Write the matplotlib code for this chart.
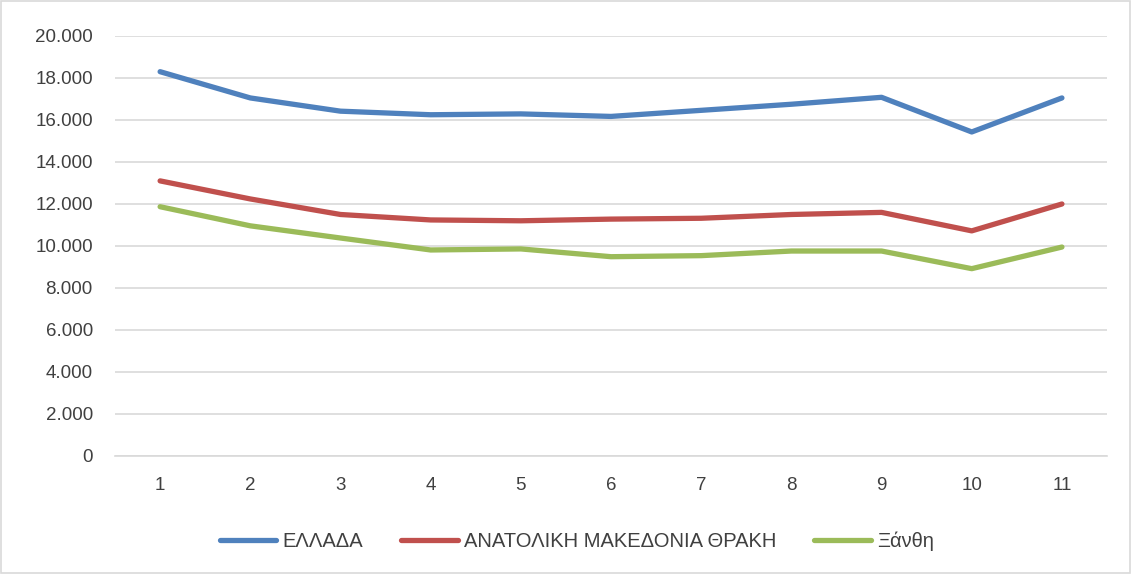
import matplotlib.pyplot as plt
from matplotlib.patches import Rectangle
from matplotlib.ticker import FuncFormatter

plt.rcParams['font.family'] = ['Liberation Sans', 'DejaVu Sans']

# Data
x = [1, 2, 3, 4, 5, 6, 7, 8, 9, 10, 11]
ellada = [18300, 17050, 16420, 16250, 16290, 16170, 16460, 16750, 17080, 15430, 17050]
amth = [13100, 12240, 11500, 11240, 11200, 11280, 11320, 11500, 11600, 10720, 12000]
xanthi = [11870, 10960, 10380, 9810, 9860, 9490, 9540, 9760, 9760, 8920, 9950]
labels = ['ΕΛΛΑΔΑ', 'ΑΝΑΤΟΛΙΚΗ ΜΑΚΕΔΟΝΙΑ ΘΡΑΚΗ', 'Ξάνθη']
colors = ['#4F81BD', '#C0504D', '#9BBB59']

fig = plt.figure(figsize=(11.31, 5.74), dpi=100)
ax = fig.add_axes([0.1017, 0.2056, 0.8771, 0.7317])

for series, lab, col in zip([ellada, amth, xanthi], labels, colors):
    ax.plot(x, series, color=col, linewidth=3.8, label=lab,
            solid_capstyle='round', solid_joinstyle='round')

ax.set_xlim(0.5, 11.5)
ax.set_ylim(0, 20000)
ax.set_xticks(x)
ax.set_yticks(range(0, 20001, 2000))
ax.yaxis.set_major_formatter(FuncFormatter(
    lambda v, p: '0' if v == 0 else f'{int(v):,}'.replace(',', '.')))
ax.grid(axis='y', color='#D9D9D9', linewidth=1.2)
ax.set_axisbelow(True)
for s in ['top', 'right', 'left']:
    ax.spines[s].set_visible(False)
ax.spines['bottom'].set_color('#D9D9D9')
ax.spines['bottom'].set_linewidth(1.2)
ax.tick_params(axis='both', length=0, labelsize=13.5, colors='#404040')
ax.tick_params(axis='y', pad=16)
ax.tick_params(axis='x', pad=15)

fig.legend(loc='center', bbox_to_anchor=(0.51, 0.0575), ncol=3, frameon=False,
           fontsize=14.5, handlelength=2.8, columnspacing=1.9, handletextpad=0.3,
           labelcolor='#404040')

# thin border round the chart area
fig.patches.append(Rectangle((0.001, 0.001), 0.998, 0.998, transform=fig.transFigure,
                             fill=False, edgecolor='#D9D9D9', linewidth=1.2))

fig.savefig('out.png', dpi=100)
